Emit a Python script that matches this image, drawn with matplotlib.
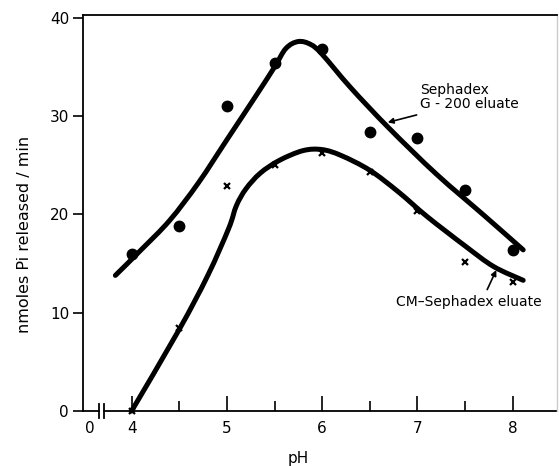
import matplotlib
matplotlib.use("Agg")
import matplotlib.pyplot as plt
import numpy as np
from matplotlib.path import Path
from matplotlib.patches import PathPatch

plt.rcParams['font.family'] = ['DejaVu Sans']

# Measured data points
ph = [4.0, 4.5, 5.0, 5.5, 6.0, 6.5, 7.0, 7.5, 8.0]
g200_pts = [16.0, 18.8, 31.0, 35.4, 36.8, 28.4, 27.8, 22.5, 16.4]
cm_pts = [0.0, 8.4, 22.9, 25.0, 26.3, 24.3, 20.4, 15.2, 13.1]

# Hand-drawn fitted curves
g200_curve_x = [3.83, 4.1, 4.4, 4.7, 5.0, 5.3, 5.5, 5.62, 5.75, 5.88, 6.0, 6.3, 6.7, 7.2, 7.7, 8.11]
g200_curve_y = [13.8, 16.4, 19.4, 23.2, 27.6, 32.0, 35.0, 36.9, 37.6, 37.3, 36.3, 32.9, 28.8, 24.1, 19.9, 16.4]
cm_curve_x = [4.0, 4.5, 4.8, 5.02, 5.1, 5.2, 5.35, 5.55, 5.8, 6.0, 6.2, 6.5, 6.8, 7.1, 7.5, 7.8, 8.11]
cm_curve_y = [0.0, 8.3, 13.8, 18.6, 20.9, 22.6, 24.2, 25.5, 26.5, 26.6, 26.0, 24.5, 22.3, 19.8, 16.8, 14.7, 13.3]

xtick_pos = [3.56, 4, 5, 6, 7, 8]
xtick_labels = ['0', '4', '5', '6', '7', '8']
ytick_pos = [0, 10, 20, 30, 40]


def smooth_path(xs, ys):
    """Catmull-Rom through the read points, rendered as cubic Bezier segments."""
    p = np.column_stack([xs, ys]).astype(float)
    n = len(p)
    verts = [p[0]]
    codes = [Path.MOVETO]
    for i in range(n - 1):
        p0 = p[i - 1] if i > 0 else p[i]
        p1 = p[i]
        p2 = p[i + 1]
        p3 = p[i + 2] if i + 2 < n else p[i + 1]
        c1 = p1 + (p2 - p0) / 6.0
        c2 = p2 - (p3 - p1) / 6.0
        verts += [c1, c2, p2]
        codes += [Path.CURVE4] * 3
    return Path(verts, codes)


fig = plt.figure(figsize=(5.59, 4.66), dpi=100)
ax = fig.add_axes([83/559, 1-411/466, (557-83)/559, (411-15)/466])
ax.set_xlim(3.49, 8.465)
ax.set_ylim(0, 40.3)

for cx, cy in [(g200_curve_x, g200_curve_y), (cm_curve_x, cm_curve_y)]:
    patch = PathPatch(smooth_path(cx, cy), facecolor='none', edgecolor='black', lw=3.6,
                      capstyle='round', joinstyle='round', zorder=3, clip_on=False)
    ax.add_patch(patch)

ax.plot(ph, g200_pts, 'o', color='black', ms=7.5, zorder=4)
ax.plot(ph, cm_pts, 'x', color='black', ms=5, mew=1.6, zorder=4, clip_on=False)

# spines
for s in ['top', 'left']:
    ax.spines[s].set_linewidth(1.3)
ax.spines['right'].set_linewidth(1.0)
ax.spines['right'].set_color('#cccccc')
ax.spines['bottom'].set_visible(False)

# broken x axis
ax.plot([3.49, 3.66], [0, 0], color='black', lw=1.3, clip_on=False)
ax.plot([3.71, 8.465], [0, 0], color='black', lw=1.3, clip_on=False)
ax.plot([3.66, 3.66], [-0.7, 0.7], color='black', lw=1.3, clip_on=False)
ax.plot([3.71, 3.71], [-0.7, 0.7], color='black', lw=1.3, clip_on=False)

ax.set_xticks(xtick_pos)
ax.set_xticklabels(xtick_labels)
ax.set_xticks([4.5, 5.5, 6.5, 7.5], minor=True)
ax.tick_params(axis='x', which='major', direction='in', length=11, width=1.2, pad=7, labelsize=11)
ax.tick_params(axis='x', which='minor', direction='in', length=7, width=1.2)
ax.xaxis.get_major_ticks()[0].tick1line.set_visible(False)

ax.set_yticks(ytick_pos)
ax.tick_params(axis='y', direction='out', length=7, width=1.2, pad=3, labelsize=11)

# annotations
ax.text(7.03, 33.4, 'Sephadex\nG - 200 eluate', fontsize=10, va='top', ha='left', linespacing=1.05)
ax.annotate('', xy=(6.66, 29.3), xytext=(7.02, 30.2),
            arrowprops=dict(arrowstyle='-|>', color='black', lw=1.2, mutation_scale=8))
ax.text(6.77, 11.1, 'CM–Sephadex eluate', fontsize=10, va='center', ha='left')
ax.annotate('', xy=(7.84, 14.6), xytext=(7.72, 12.1),
            arrowprops=dict(arrowstyle='-|>', color='black', lw=1.2, mutation_scale=8))

fig.text(298/559, 1-459/466, 'pH', fontsize=11, ha='center', va='center')
fig.text(25/559, 1-234/466, 'nmoles Pi released / min', fontsize=11.5, rotation=90, ha='center', va='center')

fig.savefig('out.png', dpi=100)
